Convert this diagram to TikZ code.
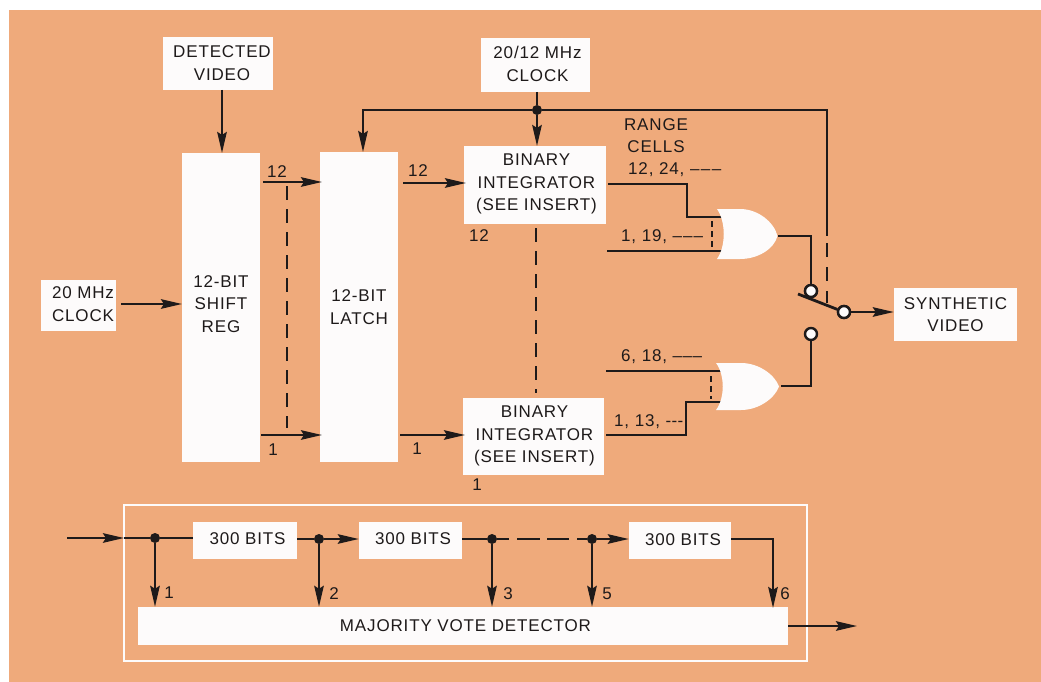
\documentclass[tikz,border=0pt]{standalone}
\usepackage{fontspec}
\setmainfont[LetterSpace=5]{Liberation Sans}
\usetikzlibrary{arrows.meta}
\definecolor{paper}{HTML}{EFAA7B}
\definecolor{ink}{HTML}{1E1A1A}
\definecolor{panel}{HTML}{FDFBFB}
\tikzset{
  x=1pt,y=-1pt,
  lbl/.style={inner sep=0pt,text=ink,font=\fontsize{17}{22.3}\selectfont,align=center},
  lw/.style={lbl,anchor=west},
  wbox/.style={lbl,fill=panel,draw=none},
  wire/.style={draw=ink,line width=2.3pt},
  arr/.style={wire,-{Stealth[length=21pt,width=9.5pt,inset=3pt]}},
  dash1/.style={draw=ink,line width=2.2pt,dash pattern=on 14pt off 9pt},
  dash2/.style={draw=ink,line width=2pt,dash pattern=on 6pt off 4pt},
  dotj/.style={circle,fill=ink,minimum size=10pt,inner sep=0pt},
  term/.style={circle,draw=ink,line width=2.4pt,fill=panel,minimum size=12pt,inner sep=0pt},
  gatefill/.style={fill=panel,draw=none}
}
\begin{document}
\begin{tikzpicture}
\useasboundingbox (0,0) rectangle (1041,682);
\fill[white] (0,0) rectangle (1041,682);
\fill[paper] (9,10) rectangle (1041,682);
% frame
\draw[draw=panel,line width=2.2pt] (124,505) rectangle (807,661);
% boxes
\node[wbox,minimum width=110pt,minimum height=53pt] (det) at (218,63.5) {};
\node[lbl] (dett) at (222,63) {DETECTED\\VIDEO};
\node[wbox,minimum width=109pt,minimum height=54pt] (clk2) at (535.5,65) {};
\node[lbl] (clk2t) at (537.5,64) {20/12 MHz\\CLOCK};
\node[wbox,minimum width=75pt,minimum height=51pt] (clk) at (78.5,305.5) {};
\node[lbl] (clkt) at (83,304) {20 MHz\\CLOCK};
\node[wbox,minimum width=78pt,minimum height=309pt] (sr) at (221,307.5) {};
\node[lbl] (srt) at (221,304) {12-BIT\\SHIFT\\REG};
\node[wbox,minimum width=78pt,minimum height=310pt] (lat) at (359,307) {12-BIT\\LATCH};
\node[wbox,minimum width=142pt,minimum height=78pt] (bi1) at (535,185) {};
\node[lbl] (bi1t) at (536.5,184) {BINARY\\INTEGRATOR\\(SEE INSERT)};
\node[wbox,minimum width=141pt,minimum height=77pt] (bi2) at (533.5,436.5) {};
\node[lbl] (bi2t) at (534.5,436) {BINARY\\INTEGRATOR\\(SEE INSERT)};
\node[wbox,minimum width=123pt,minimum height=53pt] (syn) at (955.5,314.5) {SYNTHETIC\\VIDEO};
\node[wbox,minimum width=104pt,minimum height=37pt] (b1) at (245,540.5) {};
\node[lbl] (b1t) at (247.5,539) {300 BITS};
\node[wbox,minimum width=103pt,minimum height=37pt] (b2) at (410.5,540.5) {};
\node[lbl] (b2t) at (413,539) {300 BITS};
\node[wbox,minimum width=102pt,minimum height=37pt] (b3) at (680,540.5) {};
\node[lbl] (b3t) at (683,539.5) {300 BITS};
\node[wbox,minimum width=650pt,minimum height=38pt] (mv) at (463,626) {};
\node[lbl] (mvt) at (465.5,625.5) {MAJORITY VOTE DETECTOR};
% top connectors
\coordinate (dtop) at (222,90);
\coordinate (dbot) at (222,153);
\draw[arr] (dtop) -- (dbot);
\coordinate (ca) at (121,304); \coordinate (cb) at (182,304);
\draw[arr] (ca) -- (cb);
\node[dotj] (jc) at (537,110) {};
\coordinate (c0) at (537,92);
\coordinate (c1) at (537,146);
\coordinate (c2) at (363,110);
\coordinate (c3) at (363,152);
\coordinate (c4) at (827,110);
\coordinate (c5) at (827,236);
\draw[wire] (c0) -- (jc);
\draw[arr] (jc) -- (c1);
\draw[arr] (jc) -- (c2) -- (c3);
\draw[wire] (jc) -- (c4) -- (c5);
% bus arrows
\coordinate (s12a) at (263,182); \coordinate (s12b) at (322,182);
\coordinate (s1a) at (261,435); \coordinate (s1b) at (322,435);
\coordinate (l12a) at (403,183); \coordinate (l12b) at (466,183);
\coordinate (l1a) at (400,435); \coordinate (l1b) at (465,435);
\draw[arr] (s12a) -- (s12b);
\draw[arr] (s1a) -- (s1b);
\draw[arr] (l12a) -- (l12b);
\draw[arr] (l1a) -- (l1b);
\coordinate (dsa) at (287,186); \coordinate (dsb) at (287,428);
\draw[dash1] (dsa) -- (dsb);
\coordinate (dba) at (536,228); \coordinate (dbb) at (536,393);
\draw[dash1] (dba) -- (dbb);
% OR gates inputs
\coordinate (g1a) at (608,184); \coordinate (g1b) at (687,184);
\coordinate (g1c) at (687,217); \coordinate (g1d) at (723,217);
\coordinate (g1e) at (607,251); \coordinate (g1f) at (722,251);
\draw[wire] (g1a) -- (g1b) -- (g1c) -- (g1d);
\draw[wire] (g1e) -- (g1f);
\coordinate (d1a) at (712,221); \coordinate (d1b) at (712,248);
\draw[dash2] (d1a) -- (d1b);
\coordinate (g2a) at (606,371); \coordinate (g2b) at (722,371);
\coordinate (g2c) at (606,435); \coordinate (g2d) at (686,435);
\coordinate (g2e) at (686,402); \coordinate (g2f) at (722,402);
\draw[wire] (g2a) -- (g2b);
\draw[wire] (g2c) -- (g2d) -- (g2e) -- (g2f);
\coordinate (d2a) at (711,376); \coordinate (d2b) at (711,399);
\draw[dash2] (d2a) -- (d2b);
% OR gates
\fill[gatefill] (717,209) -- (740,209) .. controls (758,209) and (774,222) .. (777.5,236)
  .. controls (774,249) and (758,259) .. (740,259) -- (717,259) .. controls (726,246) and (726,222) .. (717,209) -- cycle;
\fill[gatefill] (716,363) -- (741,363) .. controls (759,363) and (775,375) .. (779,386.5)
  .. controls (775,398) and (759,410) .. (741,410) -- (716,410) .. controls (725,398) and (725,375) .. (716,363) -- cycle;
% switch
\coordinate (o1a) at (778,236); \coordinate (o1b) at (811,236);
\coordinate (o2a) at (781,386); \coordinate (o2b) at (811,386);
\node[term] (t1) at (811,291) {};
\node[term] (t2) at (811,334) {};
\node[term] (t3) at (844,312) {};
\draw[wire] (o1a) -- (o1b) -- (t1);
\draw[wire] (o2a) -- (o2b) -- (t2);
\coordinate (da) at (827,243); \coordinate (db) at (827,303);
\draw[draw=ink,line width=2.2pt,dash pattern=on 14pt off 10pt] (da) -- (db);
\coordinate (arm) at (798,294);
\draw[wire,line width=2.8pt] (arm) -- (t3);
\node[term] at (t1) {};
\node[term] at (t3) {};
\draw[arr] (t3) -- (syn.west |- t3);
% lower chain
\coordinate (i0) at (67,538); \coordinate (i1) at (124,538);
\node[dotj] (j1) at (155,538) {};
\node[dotj] (j2) at (319,539) {};
\node[dotj] (j3) at (492,539) {};
\node[dotj] (j5) at (592,539) {};
\draw[arr] (i0) -- (i1);
\draw[wire] (i1) -- (j1) -- (b1.west |- j1);
\draw[wire] (b1.east |- j2) -- (j2);
\draw[arr] (j2) -- (b2.west |- j2);
\draw[wire] (b2.east |- j3) -- (j3);
\draw[draw=ink,line width=2.2pt,dash pattern=on 12pt off 8pt on 23pt off 7pt on 22pt off 8pt on 20pt] (j3) -- (j5);
\draw[arr] (j5) -- (b3.west |- j5);
\draw[arr] (j1) -- (j1 |- mv.north);
\draw[arr] (j2) -- (j2 |- mv.north);
\draw[arr] (j3) -- (j3 |- mv.north);
\draw[arr] (j5) -- (j5 |- mv.north);
\coordinate (k6) at (773,539);
\coordinate (k6b) at (773,608);
\draw[arr] (b3.east |- k6) -- (k6) -- (k6b);
\coordinate (out) at (857,626);
\draw[arr] (mv.east) -- (out);
% labels
\node[lbl] (l1) at (277,172) {12};
\node[lbl] (l2) at (273,450) {1};
\node[lbl] (l3) at (418,171) {12};
\node[lbl] (l4) at (417,449) {1};
\node[lbl] (l5) at (479,236) {12};
\node[lbl] (l6) at (477,485) {1};
\node[lbl] (l7) at (656,135.5) {RANGE\\CELLS};
\node[lw] (l8) at (628,170) {12, 24, –\hspace{1.5pt}–\hspace{1.5pt}–};
\node[lw] (l9) at (621,237) {1, 19, –\hspace{1pt}–\hspace{1pt}–};
\node[lw] (l10) at (621,357) {6, 18, –\hspace{0.5pt}–\hspace{0.5pt}–};
\node[lw] (l11) at (614,422) {1, 13, -\hspace{0.3pt}-\hspace{0.3pt}-};
\node[lbl] (n1) at (169,593) {1};
\node[lbl] (n2) at (334,594) {2};
\node[lbl] (n3) at (508,594) {3};
\node[lbl] (n5) at (607,594) {5};
\node[lbl] (n6) at (785,594) {6};
\end{tikzpicture}
\end{document}
